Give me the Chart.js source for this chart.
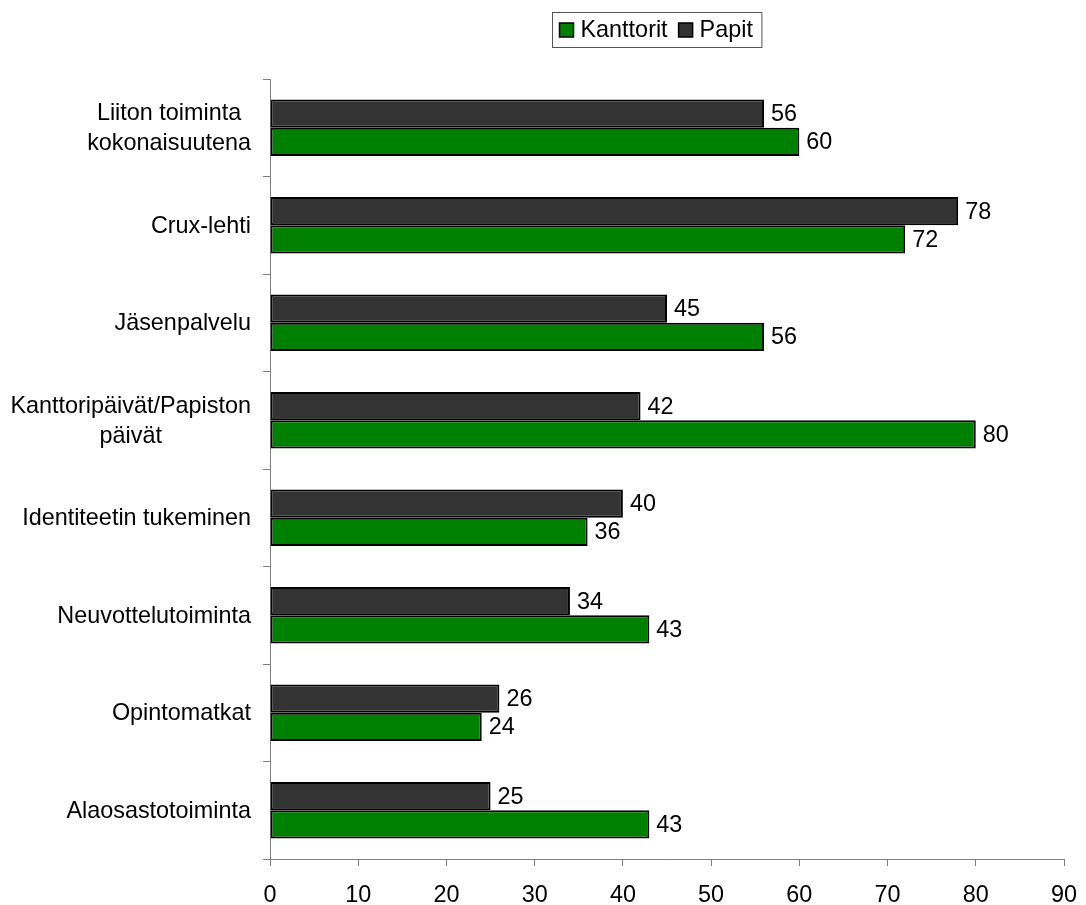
<!DOCTYPE html>
<html>
<head>
<meta charset="utf-8">
<script src="https://cdn.jsdelivr.net/npm/chart.js@4/dist/chart.umd.min.js"></script>
<style>
html,body{margin:0;padding:0;background:#fff;}
#wrap{width:1086px;height:905px;position:relative;}
</style>
</head>
<body>
<div id="wrap"><canvas id="c" width="1086" height="905"></canvas></div>
<script>
const categories = [
  ["Liiton toiminta", "kokonaisuutena"],
  "Crux-lehti",
  "Jäsenpalvelu",
  ["Kanttoripäivät/Papiston", "päivät"],
  "Identiteetin tukeminen",
  "Neuvottelutoiminta",
  "Opintomatkat",
  "Alaosastotoiminta"
];
const papitValues = [56, 78, 45, 42, 40, 34, 26, 25];
const kanttoritValues = [60, 72, 56, 80, 36, 43, 24, 43];
const xTicks = [0, 10, 20, 30, 40, 50, 60, 70, 80, 90];

const FONT = '"Liberation Sans", Arial, sans-serif';
const FS = 23.4;

const valueLabels = {
  id: 'valueLabels',
  afterDatasetsDraw(chart) {
    const ctx = chart.ctx;
    ctx.save();
    ctx.font = FS + 'px ' + FONT;
    ctx.fillStyle = '#000';
    ctx.textAlign = 'left';
    ctx.textBaseline = 'middle';
    chart.data.datasets.forEach((ds, di) => {
      const meta = chart.getDatasetMeta(di);
      meta.data.forEach((el, i) => {
        ctx.fillText(String(ds.data[i]), el.x + 7, el.y + 1);
      });
    });
    ctx.restore();
  }
};

const catLabels = {
  id: 'catLabels',
  afterDraw(chart) {
    const ctx = chart.ctx;
    const y = chart.scales.y;
    ctx.save();
    ctx.font = FS + 'px ' + FONT;
    ctx.fillStyle = '#000';
    ctx.textBaseline = 'middle';
    ctx.textAlign = 'center';
    const right = chart.chartArea.left - 19;
    const lh = 30;
    chart.data.labels.forEach((lab, i) => {
      const lines = Array.isArray(lab) ? lab : [lab];
      const w = Math.max(...lines.map(l => ctx.measureText(l).width));
      const cx = right - w / 2;
      const cy = y.getPixelForValue(i);
      const start = cy - (lines.length - 1) * lh / 2;
      lines.forEach((l, k) => ctx.fillText(l, cx, start + k * lh + 1));
    });
    ctx.restore();
  }
};

const customLegend = {
  id: 'customLegend',
  afterDraw(chart) {
    const ctx = chart.ctx;
    ctx.save();
    ctx.font = FS + 'px ' + FONT;
    const items = chart.data.datasets.slice().reverse();
    const box = 15, gapBoxText = 6, gapItems = 11, padL = 7, padR = 9;
    let total = padL + padR;
    items.forEach((d, k) => {
      total += box + gapBoxText + ctx.measureText(d.label).width;
      if (k < items.length - 1) total += gapItems;
    });
    const cx = 656.5, top = 12, h = 35;
    const left = Math.round(cx - total / 2) + 0.5;
    ctx.strokeStyle = '#555';
    ctx.lineWidth = 1;
    ctx.fillStyle = '#fff';
    ctx.fillRect(left, top + 0.5, total, h);
    ctx.strokeRect(left, top + 0.5, total, h);
    let x = left + padL;
    const my = top + h / 2 + 0.5;
    items.forEach((d) => {
      ctx.fillStyle = d.backgroundColor;
      ctx.fillRect(x, my - 7, box - 1, 14);
      ctx.strokeStyle = '#000';
      ctx.lineWidth = 1.5;
      ctx.strokeRect(x, my - 7, box - 1, 14);
      x += box + gapBoxText;
      ctx.fillStyle = '#000';
      ctx.textAlign = 'left';
      ctx.textBaseline = 'middle';
      ctx.fillText(d.label, x, my + 1);
      x += ctx.measureText(d.label).width + gapItems;
    });
    ctx.restore();
  }
};

new Chart(document.getElementById('c'), {
  type: 'bar',
  data: {
    labels: categories,
    datasets: [
      {
        label: 'Papit',
        data: papitValues,
        backgroundColor: '#333333',
        borderColor: '#000000',
        borderWidth: 2,
        borderSkipped: false,
        categoryPercentage: 0.58,
        barPercentage: 1.0
      },
      {
        label: 'Kanttorit',
        data: kanttoritValues,
        backgroundColor: '#008000',
        borderColor: '#000000',
        borderWidth: 2,
        borderSkipped: false,
        categoryPercentage: 0.58,
        barPercentage: 1.0
      }
    ]
  },
  options: {
    indexAxis: 'y',
    responsive: false,
    animation: false,
    devicePixelRatio: 1,
    layout: { padding: { top: 79, right: 22, left: 0, bottom: 0 } },
    plugins: {
      legend: { display: false },
      tooltip: { enabled: false },
      title: { display: false }
    },
    scales: {
      x: {
        type: 'linear',
        min: 0,
        max: 90,
        afterBuildTicks(scale) { scale.ticks = xTicks.map(v => ({ value: v })); },
        afterFit(scale) { scale.height = 46; scale.paddingLeft = 0; scale.paddingRight = 0; },
        border: { display: true, color: '#808080', width: 1 },
        grid: { drawOnChartArea: false, drawTicks: true, tickLength: 7, color: '#808080', lineWidth: 1 },
        ticks: { color: '#000', font: { family: FONT, size: FS }, padding: 16, maxRotation: 0 }
      },
      y: {
        type: 'category',
        offset: true,
        afterFit(scale) { scale.width = 270; scale.paddingTop = 0; scale.paddingBottom = 0; },
        border: { display: true, color: '#808080', width: 1 },
        grid: { offset: true, drawOnChartArea: false, drawTicks: true, tickLength: 7, color: '#808080', lineWidth: 1 },
        ticks: { display: false }
      }
    }
  },
  plugins: [valueLabels, catLabels, customLegend]
});
</script>
</body>
</html>
